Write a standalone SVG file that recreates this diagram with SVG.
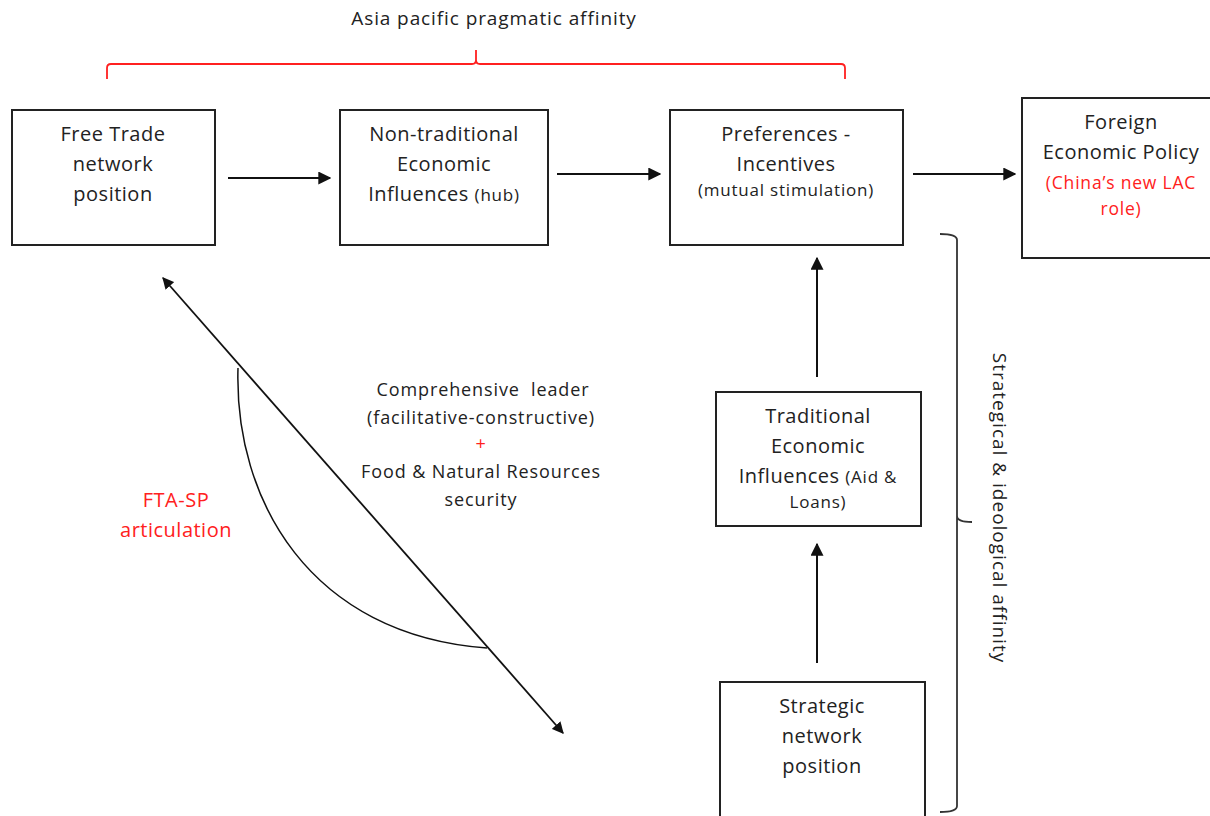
<svg xmlns="http://www.w3.org/2000/svg" width="1210" height="816" viewBox="0 0 1210 816">
<defs>
<style>
.box{fill:#fff;stroke:#222;stroke-width:2}
.t{font-family:"Open Sans","Liberation Sans",sans-serif;font-size:20px;letter-spacing:0.5px;fill:#222;text-anchor:middle}
.s{font-size:17px;letter-spacing:0.8px}
.m{font-family:"Open Sans","Liberation Sans",sans-serif;font-size:18px;letter-spacing:0.9px;fill:#222;text-anchor:middle}
.red{fill:#ff2020}
.ln{stroke:#111;stroke-width:2;fill:none}
.br{stroke:#333;stroke-width:1.8;fill:none}
</style>
<marker id="ah" viewBox="0 0 10 10" refX="9" refY="5" markerWidth="6.5" markerHeight="6.5" orient="auto-start-reverse" markerUnits="strokeWidth">
<path d="M0,0 L10,5 L0,10 z" fill="#111"/>
</marker>
</defs>
<rect width="1210" height="816" fill="#fff"/>

<g id="bracket-top">
<path d="M107,79 V68 Q107,64 111,64 H472 Q476,64 476,60 V50 M476,60 Q476,64 480,64 H841 Q845,64 845,68 V79" stroke="#ff2020" stroke-width="1.8" fill="none"/>
<text class="t" x="494" y="25" style="font-size:19px;letter-spacing:0.9px">Asia pacific pragmatic affinity</text>
</g>

<g id="bracket-right">
<path class="br" d="M940,234 Q957,234 957,240 V516 Q957,522 972,522 M957,516 V806 Q957,812 940,812"/>
<text class="t" transform="translate(993,508) rotate(90)" style="font-size:19px;letter-spacing:1px">Strategical &amp; ideological affinity</text>
</g>

<g id="free-trade">
<rect class="box" x="12" y="110" width="203" height="135"/>
<text class="t" x="113" y="141">Free Trade</text>
<text class="t" x="113" y="171">network</text>
<text class="t" x="113" y="201">position</text>
</g>

<g id="non-traditional">
<rect class="box" x="340" y="110" width="208" height="135"/>
<text class="t" x="444" y="141">Non-traditional</text>
<text class="t" x="444" y="171">Economic</text>
<text class="t" x="444" y="201">Influences <tspan class="s">(hub)</tspan></text>
</g>

<g id="preferences">
<rect class="box" x="670" y="110" width="233" height="135"/>
<text class="t" x="786" y="141">Preferences -</text>
<text class="t" x="786" y="171">Incentives</text>
<text class="t s" x="786" y="196">(mutual stimulation)</text>
</g>

<g id="foreign-policy">
<rect class="box" x="1022" y="98" width="192" height="160"/>
<text class="t" x="1121" y="129">Foreign</text>
<text class="t" x="1121" y="159">Economic Policy</text>
<text class="t red" x="1121" y="189" style="font-size:17.5px;letter-spacing:0.8px">(China’s new LAC</text>
<text class="t red" x="1121" y="215" style="font-size:17.5px;letter-spacing:0.8px">role)</text>
</g>

<g id="traditional">
<rect class="box" x="716" y="392" width="205" height="134"/>
<text class="t" x="818" y="423">Traditional</text>
<text class="t" x="818" y="453">Economic</text>
<text class="t" x="818" y="483">Influences <tspan class="s">(Aid &amp;</tspan></text>
<text class="t s" x="818" y="508">Loans)</text>
</g>

<g id="strategic">
<rect class="box" x="720" y="682" width="205" height="140"/>
<text class="t" x="822" y="713">Strategic</text>
<text class="t" x="822" y="743">network</text>
<text class="t" x="822" y="773">position</text>
</g>

<g id="label-comprehensive">
<text class="m" x="483" y="396" style="white-space:pre">Comprehensive  leader</text>
<text class="m" x="481" y="424">(facilitative-constructive)</text>
<text class="m red" x="481" y="450">+</text>
<text class="m" x="481" y="478">Food &amp; Natural Resources</text>
<text class="m" x="481" y="506">security</text>
</g>

<g id="label-fta">
<text class="t red" x="176" y="507">FTA-SP</text>
<text class="t red" x="176" y="537">articulation</text>
</g>

<g id="connectors">
<line class="ln" x1="228" y1="178" x2="330" y2="178" marker-end="url(#ah)"/>
<line class="ln" x1="557" y1="174" x2="660" y2="174" marker-end="url(#ah)"/>
<line class="ln" x1="913" y1="174" x2="1015" y2="174" marker-end="url(#ah)"/>
<line class="ln" x1="817" y1="377" x2="817" y2="258" marker-end="url(#ah)"/>
<line class="ln" x1="817" y1="663" x2="817" y2="544" marker-end="url(#ah)"/>
<line class="ln" x1="163" y1="278" x2="563" y2="733" marker-start="url(#ah)" marker-end="url(#ah)" style="stroke-width:1.8"/>
<path class="ln" d="M238,368 C234,500 310,635 487,648" style="stroke-width:1.5"/>
</g>
</svg>
